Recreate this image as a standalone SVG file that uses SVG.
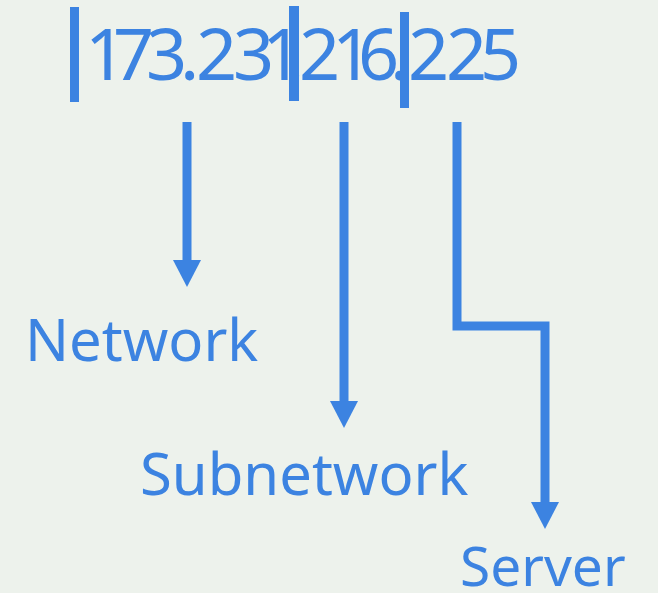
<svg xmlns="http://www.w3.org/2000/svg" width="658" height="593" viewBox="0 0 658 593">
<style>
.t{font-family:"Noto Sans","Open Sans","DejaVu Sans",sans-serif;fill:#3C83E1}
.bar{fill:#3C83E1}
.c{fill:none;stroke:#3C83E1;stroke-width:9;stroke-linejoin:miter}
</style>
<defs>
<marker id="ah" viewBox="0 0 27 28" refX="0" refY="14" markerWidth="27" markerHeight="28" markerUnits="userSpaceOnUse" orient="auto">
<path d="M0,0 L27,14 L0,28 z" fill="#3C83E1"/>
</marker>
</defs>
<rect width="658" height="593" fill="#EDF2EC"/>
<g id="address">
<text class="t" x="85 113 146 180 196 233 262 285 299 332 358 390 408 446 480" y="80" font-size="72">173.231.216.225</text>
<rect class="bar" x="70" y="7" width="9" height="95"/>
<rect class="bar" x="289" y="6" width="10" height="95"/>
<rect class="bar" x="400" y="12" width="9" height="96"/>
</g>
<g id="network"><text class="t" x="25" y="361" font-size="58">Network</text></g>
<g id="subnetwork"><text class="t" x="140" y="495" font-size="58">Subnetwork</text></g>
<g id="server"><text class="t" x="460" y="586" font-size="55">Server</text></g>
<g id="connectors">
<path class="c" d="M187,122 V260" marker-end="url(#ah)"/>
<path class="c" d="M344,122 V401" marker-end="url(#ah)"/>
<path class="c" d="M457,122 V326 H545 V502" marker-end="url(#ah)"/>
</g>
</svg>
